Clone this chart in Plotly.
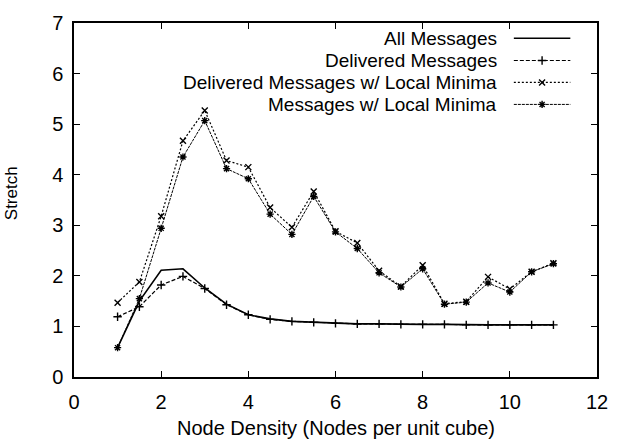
import plotly.graph_objects as go

density = [1, 1.5, 2, 2.5, 3, 3.5, 4, 4.5, 5, 5.5, 6, 6.5, 7, 7.5, 8, 8.5, 9, 9.5, 10, 10.5, 11]

all_messages = [0.58, 1.50, 2.11, 2.14, 1.76, 1.44, 1.23, 1.15, 1.10, 1.08, 1.06, 1.05, 1.05, 1.04, 1.04, 1.04, 1.03, 1.03, 1.03, 1.03, 1.03]
delivered = [1.19, 1.39, 1.82, 1.99, 1.75, 1.43, 1.23, 1.14, 1.10, 1.08, 1.06, 1.05, 1.05, 1.04, 1.04, 1.04, 1.03, 1.03, 1.03, 1.03, 1.03]
delivered_lm = [1.47, 1.88, 3.18, 4.67, 5.27, 4.28, 4.15, 3.35, 2.96, 3.67, 2.88, 2.65, 2.10, 1.79, 2.21, 1.45, 1.49, 1.98, 1.74, 2.08, 2.25]
messages_lm = [0.58, 1.55, 2.94, 4.35, 5.07, 4.12, 3.92, 3.22, 2.82, 3.57, 2.87, 2.54, 2.06, 1.78, 2.14, 1.44, 1.48, 1.86, 1.68, 2.08, 2.24]

series_names = ["All Messages", "Delivered Messages",
                "Delivered Messages w/ Local Minima", "Messages w/ Local Minima"]
x_title = "Node Density (Nodes per unit cube)"
y_title = "Stretch"

FONT = "Liberation Sans, Arial, Helvetica, sans-serif"
styles = [
    dict(dash="solid", width=1.6, symbol=None, msize=0),
    dict(dash="4px,2px", width=1.2, symbol="cross-thin-open", msize=6),
    dict(dash="2px,2px", width=1.2, symbol="x-thin-open", msize=6),
    dict(dash="3px,1px", width=1.0, symbol="asterisk-open", msize=6),
]
data = [all_messages, delivered, delivered_lm, messages_lm]

fig = go.Figure()
for name, ys, st in zip(series_names, data, styles):
    fig.add_trace(go.Scatter(
        x=density, y=ys, name=name,
        mode="lines" if st["symbol"] is None else "lines+markers",
        line=dict(color="black", width=st["width"], dash=st["dash"]),
        marker=dict(symbol=st["symbol"] or "circle", size=st["msize"],
                    color="black", line=dict(color="black", width=1.4)),
        showlegend=False,
    ))

# custom legend (text on the left, sample on the right) on an overlay axis
rows_y = [0.957, 0.894, 0.832, 0.770]
for name, st, ry in zip(series_names, styles, rows_y):
    fig.add_trace(go.Scatter(
        x=[0.841, 0.949], y=[ry, ry], xaxis="x2", yaxis="y2", mode="lines",
        line=dict(color="black", width=st["width"], dash=st["dash"]),
        showlegend=False, hoverinfo="skip",
    ))
    if st["symbol"]:
        fig.add_trace(go.Scatter(
            x=[0.895], y=[ry], xaxis="x2", yaxis="y2", mode="markers",
            marker=dict(symbol=st["symbol"], size=st["msize"], color="black",
                        line=dict(color="black", width=1.4)),
            showlegend=False, hoverinfo="skip"))
    fig.add_annotation(x=0.812, y=ry, xref="x2", yref="y2", text=name,
                       showarrow=False, xanchor="right", yanchor="middle",
                       font=dict(family=FONT, size=19, color="black"))

fig.add_annotation(x=0.5, y=-0.1448, xref="paper", yref="paper", text=x_title,
                   showarrow=False, xanchor="center", yanchor="middle",
                   font=dict(family=FONT, size=20, color="black"))
fig.add_annotation(x=-0.118, y=0.52, xref="paper", yref="paper", text=y_title,
                   showarrow=False, textangle=-90, xanchor="center", yanchor="middle",
                   font=dict(family=FONT, size=17, color="black"))

axis_common = dict(
    showgrid=False, zeroline=False, showline=True, linecolor="black", linewidth=1.5,
    mirror="ticks", ticks="inside", ticklen=6, tickcolor="black", tickwidth=1,
    tickfont=dict(family=FONT, size=20, color="black"),
)
fig.update_layout(
    width=620, height=445,
    margin=dict(l=74, r=18, t=15, b=67.5),
    paper_bgcolor="white", plot_bgcolor="white",
    font=dict(family=FONT, size=20, color="black"),
    xaxis=dict(range=[0, 12], tickvals=[0, 2, 4, 6, 8, 10, 12], ticklabelstandoff=6,
               **axis_common),
    yaxis=dict(range=[0, 7], tickvals=[0, 1, 2, 3, 4, 5, 6, 7], ticklabelstandoff=5,
               **axis_common),
    xaxis2=dict(range=[0, 1], overlaying="x", visible=False, fixedrange=True),
    yaxis2=dict(range=[0, 1], overlaying="y", visible=False, fixedrange=True),
)
fig.write_html("out.html")
